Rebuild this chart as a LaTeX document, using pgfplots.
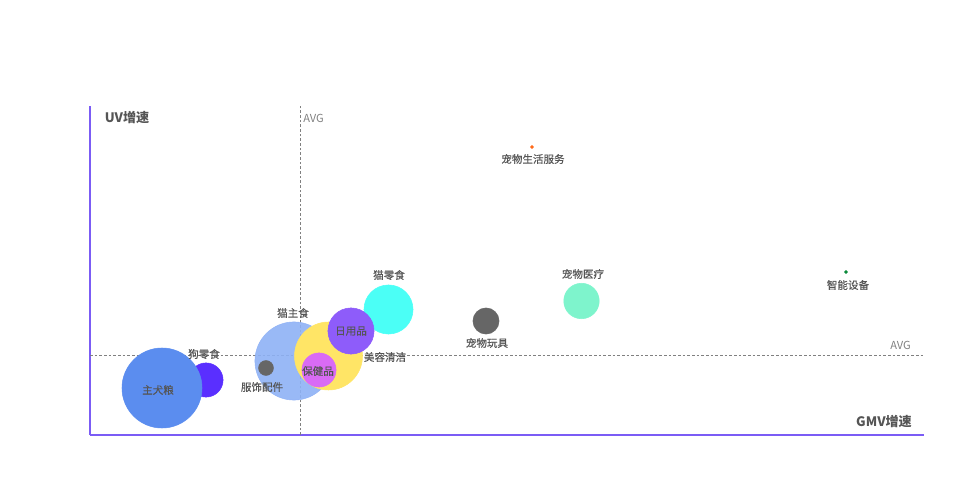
\documentclass[border=0pt]{standalone}
\usepackage{pgfplots}
\pgfplotsset{compat=1.18}
\usepackage{fontspec}
\setmainfont{Noto Sans CJK SC}
\newfontfamily\medfont{Noto Sans CJK SC}[FakeBold=0.5]
\definecolor{axpurple}{HTML}{7B5CF5}
\definecolor{txt}{HTML}{555555}
\definecolor{avg}{HTML}{808080}
\definecolor{cDog}{HTML}{5B8DEF}
\definecolor{cDogSnack}{HTML}{5A2FFF}
\definecolor{cCloth}{HTML}{666666}
\definecolor{cCat}{HTML}{8EB1F5}
\definecolor{cBeauty}{HTML}{FFE566}
\definecolor{cHealth}{HTML}{D96BF5}
\definecolor{cDaily}{HTML}{8E5CFA}
\definecolor{cCatSnack}{HTML}{4BFFF6}
\definecolor{cToy}{HTML}{666666}
\definecolor{cMed}{HTML}{7EF4CC}
\definecolor{cLife}{HTML}{FF6A1A}
\definecolor{cSmart}{HTML}{0A8A3A}
\pgfplotsset{
    bub/.style={only marks, mark=*, color=#1, mark options={solid, draw=#1, fill=#1}},
}
\tikzset{
    lab/.style={font=\medfont\fontsize{7.9pt}{8pt}\selectfont, text=txt, inner sep=0pt},
    avgl/.style={font=\fontsize{8.3pt}{8.5pt}\selectfont, text=avg, inner sep=0pt},
    ttl/.style={font=\bfseries\fontsize{9.8pt}{10pt}\selectfont, text=txt, inner sep=0pt},
}
\begin{document}
\begin{tikzpicture}
\useasboundingbox (0,0) rectangle (729pt,359.25pt);
\begin{axis}[
    at={(67.5pt,33pt)}, anchor=south west,
    scale only axis,
    width=625.5pt, height=246.75pt,
    xmin=0, xmax=834, ymin=0, ymax=329,
    axis lines=left,
    axis line style={axpurple, line width=1.1pt, -},
    xtick=\empty, ytick=\empty,
    clip=false,
]
% average lines
\addplot[avg, dash pattern=on 2pt off 1.5pt, line width=0.6pt] coordinates {(210,0) (210,329)};
\addplot[avg, dash pattern=on 2pt off 1.5pt, line width=0.6pt] coordinates {(0,80) (834,80)};
% bubbles: x, y, radius in px (scaled by 0.75)
\addplot[bub=cCatSnack, mark size=18.4pt] coordinates {(298.5,125.5)};
\addplot[bub=cDogSnack, mark size=12.8pt] coordinates {(116,55)};
\addplot[bub=cDog, mark size=30pt] coordinates {(72,47)};
\addplot[bub=cCat, mark size=29.3pt, mark options={opacity=0.9}] coordinates {(204,74)};
\addplot[bub=cCloth, mark size=5.6pt] coordinates {(176,67)};
\addplot[bub=cBeauty, mark size=25.5pt] coordinates {(238.5,79)};
\addplot[bub=cDaily, mark size=17.3pt] coordinates {(261,104)};
\addplot[bub=cHealth, mark size=12.8pt] coordinates {(229,65)};
\addplot[bub=cToy, mark size=9.8pt] coordinates {(396,114)};
\addplot[bub=cMed, mark size=13.3pt] coordinates {(491.5,134)};
\addplot[bub=cLife, mark size=1.2pt] coordinates {(442,288)};
\addplot[bub=cSmart, mark size=1.2pt] coordinates {(756,163)};
% label anchors
\coordinate (l1) at (axis cs:68,45);
\coordinate (l2) at (axis cs:114,81);
\coordinate (l3) at (axis cs:172,48);
\coordinate (l4) at (axis cs:203,122);
\coordinate (l5) at (axis cs:295,78);
\coordinate (l6) at (axis cs:228,64);
\coordinate (l7) at (axis cs:261,104);
\coordinate (l8) at (axis cs:299,160);
\coordinate (l9) at (axis cs:397,92);
\coordinate (l10) at (axis cs:493,161);
\coordinate (l11) at (axis cs:443,276);
\coordinate (l12) at (axis cs:758,150);
\coordinate (a1) at (axis cs:213,317);
\coordinate (a2) at (axis cs:821,90);
\coordinate (t1) at (axis cs:37,317);
\coordinate (t2) at (axis cs:794,13);
\end{axis}
\node[lab] at (l1) {主犬粮};
\node[lab] at (l2) {狗零食};
\node[lab] at (l3) {服饰配件};
\node[lab] at (l4) {猫主食};
\node[lab] at (l5) {美容清洁};
\node[lab] at (l6) {保健品};
\node[lab] at (l7) {日用品};
\node[lab] at (l8) {猫零食};
\node[lab] at (l9) {宠物玩具};
\node[lab] at (l10) {宠物医疗};
\node[lab] at (l11) {宠物生活服务};
\node[lab] at (l12) {智能设备};
\node[avgl, anchor=west] at (a1) {AVG};
\node[avgl, anchor=east] at (a2) {AVG};
\node[ttl] at (t1) {UV增速};
\node[ttl] at (t2) {GMV增速};
\end{tikzpicture}
\end{document}
